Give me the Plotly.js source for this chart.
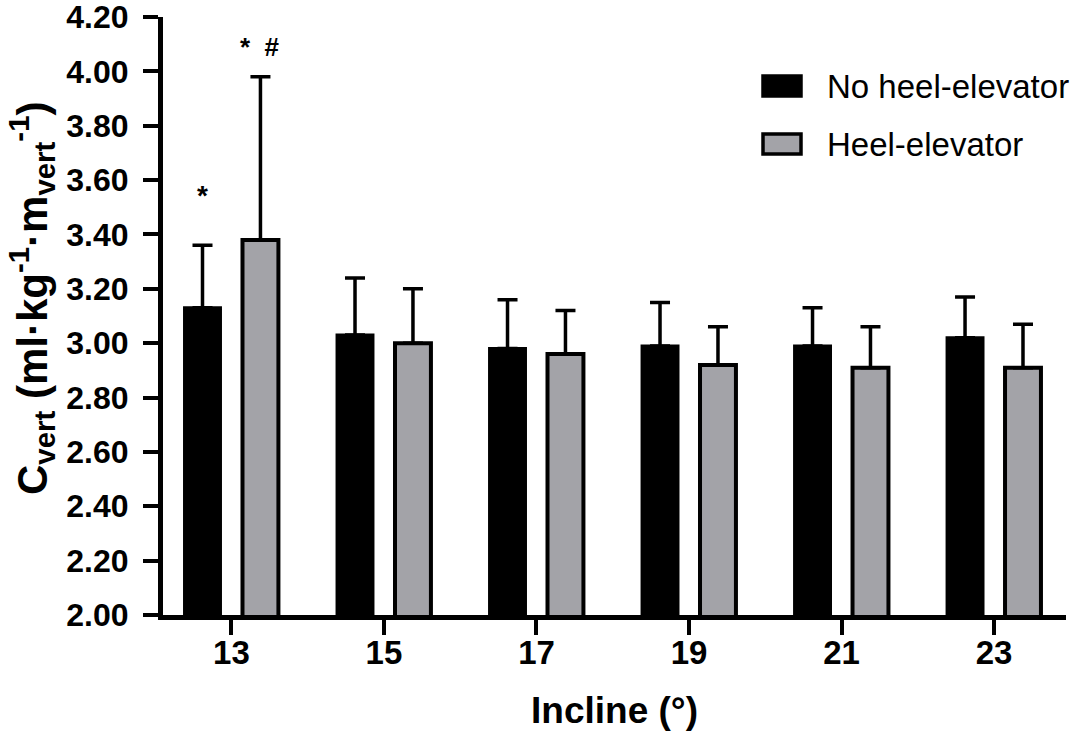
<!DOCTYPE html>
<html>
<head>
<meta charset="utf-8">
<script src="https://cdn.plot.ly/plotly-3.0.1.min.js"></script>
<style>
  html, body { margin: 0; padding: 0; background: #fff; }
  #chart { width: 1084px; height: 739px; }
</style>
</head>
<body>
<div id="chart"></div>
<script>
const incline = ['13', '15', '17', '19', '21', '23'];
const noHeelMean = [3.13, 3.03, 2.98, 2.99, 2.99, 3.02];
const noHeelSD = [0.23, 0.21, 0.18, 0.16, 0.14, 0.15];
const heelMean = [3.38, 3.00, 2.96, 2.92, 2.91, 2.91];
const heelSD = [0.60, 0.20, 0.16, 0.14, 0.15, 0.16];
const seriesNames = ['No heel-elevator', 'Heel-elevator'];
const yTicks = [2.0, 2.2, 2.4, 2.6, 2.8, 3.0, 3.2, 3.4, 3.6, 3.8, 4.0, 4.2];

const FONT = 'Liberation Sans, Arial, sans-serif';
const GREY = '#a3a3a8';

// plot area in pixels, used to place the hand drawn legend
const W = 1084, H = 739;
const M = { l: 163, r: 18, t: 17, b: 124 };
const px = x => (x - M.l) / (W - M.l - M.r);
const py = y => (H - M.b - y) / (H - M.t - M.b);

function barTrace(name, mean, sd, color, lineWidth) {
    return {
        type: 'bar',
        name: name,
        x: incline,
        y: mean,
        marker: { color: color, line: { color: '#000', width: lineWidth } },
        error_y: {
            type: 'data',
            symmetric: false,
            array: sd,
            arrayminus: sd.map(() => 0),
            color: '#000',
            thickness: 3.5,
            width: 10
        },
        showlegend: false,
        hoverinfo: 'skip'
    };
}

const traces = [
    barTrace(seriesNames[0], noHeelMean, noHeelSD, '#000', 3),
    barTrace(seriesNames[1], heelMean, heelSD, GREY, 4)
];

// legend drawn by hand so the swatches are as big as in the figure
const legendRows = [
    { y: 86, fill: '#000' },
    { y: 144, fill: GREY }
];
const shapes = legendRows.map(r => ({
    type: 'rect', xref: 'paper', yref: 'paper',
    x0: px(763), x1: px(801), y0: py(r.y + 10), y1: py(r.y - 10),
    fillcolor: r.fill, line: { color: '#000', width: 3.5 }
}));

// annotations on a category axis take the category index
const first = incline.indexOf('13');

const annotations = [
    ...legendRows.map((r, i) => ({
        xref: 'paper', yref: 'paper', x: px(825), y: py(r.y),
        xanchor: 'left', yanchor: 'middle', showarrow: false,
        text: seriesNames[i],
        font: { family: FONT, size: 33, color: '#000' }
    })),
    // significance marks over the 13° pair
    {
        x: first, y: noHeelMean[first] + noHeelSD[first], xshift: -29, yshift: 50,
        text: '*', showarrow: false, yanchor: 'middle',
        font: { family: FONT, size: 28, color: '#000', weight: 'bold' }
    },
    {
        x: first, y: heelMean[first] + heelSD[first], xshift: 29, yshift: 30,
        text: '*&nbsp;&nbsp;#', showarrow: false, yanchor: 'middle',
        font: { family: FONT, size: 26, color: '#000', weight: 'bold' }
    },
    // y title
    {
        xref: 'paper', yref: 'paper', x: px(31), y: 0.5, yshift: 17,
        xanchor: 'center', yanchor: 'middle', textangle: -90, showarrow: false,
        text: 'C<sub>vert</sub> (ml·kg<sup>-1</sup>·m<sub>vert</sub><sup>-1</sup>)',
        font: { family: FONT, size: 42, color: '#000', weight: 'bold' }
    }
];

const layout = {
    width: W,
    height: H,
    margin: M,
    paper_bgcolor: '#fff',
    plot_bgcolor: '#fff',
    font: { family: FONT, color: '#000' },
    barmode: 'group',
    bargap: 0.24,
    bargroupgap: 0.38,
    showlegend: false,
    xaxis: {
        type: 'category',
        range: [-0.449, 5.472],
        showgrid: false,
        zeroline: false,
        showline: true,
        linecolor: '#000',
        linewidth: 5,
        ticks: 'outside',
        ticklen: 15,
        tickwidth: 4,
        tickcolor: '#000',
        ticklabelstandoff: -11,
        tickfont: { family: FONT, size: 33, color: '#000', weight: 'bold' },
        title: {
            text: 'Incline (°)',
            standoff: 29,
            font: { family: FONT, size: 37, color: '#000', weight: 'bold' }
        }
    },
    yaxis: {
        range: [2.0, 4.2],
        tickvals: yTicks,
        ticktext: yTicks.map(v => v.toFixed(2)),
        showgrid: false,
        zeroline: false,
        showline: true,
        linecolor: '#000',
        linewidth: 5,
        ticks: 'outside',
        ticklen: 15,
        tickwidth: 4,
        tickcolor: '#000',
        ticklabelstandoff: 8,
        ticklabeloverflow: 'allow',
        tickfont: { family: FONT, size: 32, color: '#000', weight: 'bold' }
    },
    shapes: shapes,
    annotations: annotations
};

Plotly.newPlot('chart', traces, layout, { displayModeBar: false, staticPlot: true });
</script>
</body>
</html>
